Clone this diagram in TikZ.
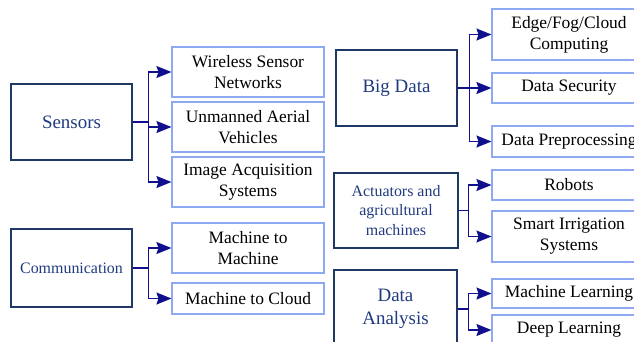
\documentclass[tikz,border=0pt]{standalone}
\usepackage{fontspec}
\setmainfont{Liberation Serif}
\usetikzlibrary{arrows.meta}
\definecolor{boxnavy}{HTML}{1F3864}
\definecolor{textnavy}{HTML}{1F3A7E}
\definecolor{leafblue}{HTML}{8EA9F2}
\definecolor{linkblue}{HTML}{10108F}

\begin{document}
\begin{tikzpicture}[
			x=1bp, y=-1bp,
			% Define styles for nodes
			group/.style={draw=boxnavy, line width=1.4bp, rectangle, align=center, text=textnavy,
				minimum width=121bp, inner sep=2bp, font=\fontsize{19}{23}\selectfont},
			small group/.style={group, font=\fontsize{16}{20}\selectfont},
			leaf/.style={draw=leafblue, line width=1.1bp, rectangle, align=center, text=black,
				minimum width=152bp, inner sep=2bp, font=\fontsize{17.5}{21}\selectfont},
			branch/.style={draw=linkblue, line width=1.4bp, -{Stealth[length=15bp,width=12bp,inset=2bp]}}
		]
		\useasboundingbox (0,0) rectangle (634,341);
		\clip (0,0) rectangle (634,341);

		% Sensors
		\node[group, minimum height=76bp] (sensors) at (71.5,122) {Sensors};
		\node[leaf, minimum height=50bp] (wsn) at (248,72) {Wireless Sensor\\Networks};
		\node[leaf, minimum height=50bp] (uav) at (248,127) {Unmanned Aerial\\Vehicles};
		\node[leaf, minimum height=50bp] (ias) at (248,182) {Image Acquisition\\Systems};

		% Communication
		\node[small group, minimum height=78bp] (comm) at (71.5,268) {Communication};
		\node[leaf, minimum height=50bp] (m2m) at (248,248) {Machine to\\Machine};
		\node[leaf, minimum height=31bp] (m2c) at (248,298.5) {Machine to Cloud};

		% Big Data
		\node[group, minimum height=76bp] (bigdata) at (396.5,88) {Big Data};
		\node[leaf, minimum width=154bp, minimum height=51bp] (edge) at (569,34.5) {Edge/Fog/Cloud\\Computing};
		\node[leaf, minimum width=154bp, minimum height=30bp] (security) at (569,88) {Data Security};
		\node[leaf, minimum width=154bp, minimum height=31bp] (prep) at (569,141.5) {Data Preprocessing};

		% Actuators
		\node[small group, minimum width=124bp, minimum height=75bp] (act) at (396,210.5) {Actuators and\\agricultural\\machines};
		\node[leaf, minimum width=154bp, minimum height=30bp] (robots) at (569,185) {Robots};
		\node[leaf, minimum width=154bp, minimum height=51bp] (irrig) at (569,236.5) {Smart Irrigation\\Systems};

		% Data Analysis
		\node[group, minimum width=123bp, minimum height=78bp] (analysis) at (395.5,309) {Data\\Analysis};
		\node[leaf, minimum width=154bp, minimum height=29bp] (ml) at (569,293.5) {Machine Learning};
		\node[leaf, minimum width=154bp, minimum height=30bp] (dl) at (569,330) {Deep Learning};

		% Connectors
		\foreach \c in {wsn,uav,ias}
			\draw[branch] (sensors.east) -- ++(16,0) |- (\c.west);
		\foreach \c in {m2m,m2c}
			\draw[branch] (comm.east) -- ++(16,0) |- (\c.west);
		\foreach \c in {edge,security,prep}
			\draw[branch] (bigdata.east) -- ++(12,0) |- (\c.west);
		\foreach \c in {robots,irrig}
			\draw[branch] (act.east) -- ++(10,0) |- (\c.west);
		\foreach \c in {ml,dl}
			\draw[branch] (analysis.east) -- ++(11,0) |- (\c.west);
	\end{tikzpicture}
\end{document}
